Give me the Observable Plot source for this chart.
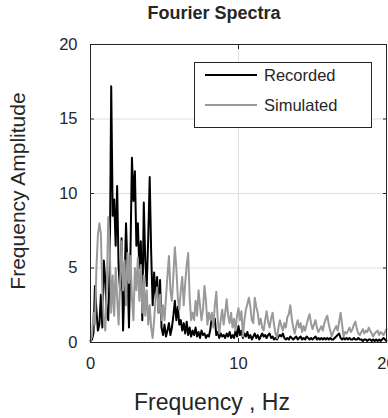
<!DOCTYPE html>
<html><head><meta charset="utf-8">
<script src="https://cdn.jsdelivr.net/npm/d3@7"></script>
<script src="https://cdn.jsdelivr.net/npm/@observablehq/plot@0.6"></script>
<style>
body{margin:0;background:#fff;}
#wrap{position:relative;width:388px;height:418px;overflow:hidden;font-family:"Liberation Sans",Arial,sans-serif;color:#262626;}
#wrap svg{position:absolute;left:0;top:0;}
.t{position:absolute;white-space:nowrap;line-height:1;}
#legend{position:absolute;left:194px;top:62px;width:176px;height:64px;border:1px solid #262626;background:#fff;}
#legend .row{position:absolute;left:10px;height:20px;display:flex;align-items:center;font-size:16.5px;}
#legend .sw{width:52px;height:0;border-top:2px solid #000;margin-right:7px;}
</style></head><body>
<div id="wrap">
  <div class="t" id="title" style="font-weight:bold;font-size:18px;left:0;width:428px;text-align:center;top:4px;">Fourier Spectra</div>
  <div class="t" id="xlabel" style="font-size:23px;left:0;width:424px;text-align:center;top:391px;">Frequency , Hz</div>
  <div class="t" id="ylabel" style="font-size:21px;left:17px;top:191px;transform:translate(-50%,-50%) rotate(-90deg);">Frequency Amplitude</div>
</div>
<script>
// Frequency step of the spectra (Hz) and series values
const freqStep = 0.1;
const recorded = [
 0.1,0.2,0.6,3.8,2.2,0.8,1.2,3.2,1.0,5.5,
 4.2,2.0,1.5,5.0,17.2,8.5,9.6,6.5,10.5,5.0,
 3.5,7.0,0.8,4.0,8.0,5.0,1.0,6.0,12.4,9.5,
 11.5,6.5,8.0,5.0,6.8,1.5,9.4,5.5,3.8,7.0,
 11.1,6.0,2.5,4.7,3.0,4.4,2.0,4.2,1.0,0.5,
 1.2,0.4,0.8,1.3,0.5,1.0,1.8,2.8,1.5,2.4,
 1.2,1.5,0.8,1.3,0.6,1.4,0.5,1.0,0.4,0.8,
 0.5,1.0,0.4,0.7,0.3,0.8,0.5,0.6,0.3,0.5,
 0.4,0.9,1.8,1.2,1.6,0.5,0.7,0.3,0.6,0.4,
 0.5,0.3,0.6,0.4,0.7,0.3,0.5,0.3,0.8,0.4,
 1.1,0.5,0.8,0.3,0.6,0.4,0.7,0.3,0.5,0.2,
 0.4,0.6,0.3,0.5,0.2,0.4,0.6,0.4,0.5,0.3,
 0.5,0.6,0.3,0.4,0.2,0.3,0.2,0.4,0.5,0.4,
 0.6,0.3,0.2,0.3,0.2,0.4,0.3,0.2,0.3,0.4,
 0.2,0.3,0.4,0.2,0.3,0.2,0.4,0.3,0.2,0.3,
 0.2,0.3,0.4,0.2,0.3,0.2,0.3,0.2,0.3,0.2,
 0.3,0.2,0.3,0.2,0.2,0.3,0.4,0.5,0.6,0.3,
 0.2,0.3,0.2,0.3,0.2,0.3,0.2,0.2,0.3,0.2,
 0.2,0.3,0.2,0.2,0.1,0.2,0.2,0.1,0.2,0.2,
 0.1,0.2,0.1,0.2,0.1,0.2,0.1,0.2,0.3,0.2,
 0.1
];
const simulated = [
 0.1,0.4,2.0,1.2,5.0,7.2,8.0,7.3,3.5,1.5,
 0.8,3.5,8.4,6.5,2.0,4.5,1.8,5.0,3.0,1.2,
 4.0,6.8,3.5,5.5,2.5,6.0,4.0,5.8,3.0,1.5,
 5.0,3.5,5.7,2.8,5.2,2.0,4.5,1.8,3.5,1.2,
 2.5,1.0,0.3,1.5,3.0,3.7,2.0,3.2,1.5,2.5,
 1.5,3.0,4.5,5.8,3.5,2.8,4.5,6.4,5.0,3.0,
 2.2,3.5,4.4,2.5,4.0,5.2,6.0,3.0,1.5,2.0,
 1.5,2.8,1.8,3.5,2.5,1.5,2.2,3.8,2.8,1.2,
 2.0,1.5,2.0,1.0,2.5,3.4,1.5,0.6,1.5,2.2,
 1.2,2.0,2.9,1.8,1.3,2.0,1.0,1.6,0.8,1.8,
 2.3,1.5,2.1,0.4,1.5,2.2,2.6,3.0,2.4,1.5,
 1.3,3.0,2.4,2.0,1.2,1.6,1.0,0.8,1.5,2.1,
 1.4,1.0,1.6,2.0,1.2,0.6,0.3,1.0,1.5,1.1,
 0.8,1.3,1.0,1.7,1.9,2.5,1.6,1.0,0.6,1.1,
 1.5,1.0,1.3,0.7,1.1,0.8,1.2,1.6,1.9,1.3,
 0.9,1.2,1.5,1.0,0.7,0.9,1.1,0.8,1.3,1.6,
 1.8,1.2,0.8,0.4,0.7,0.9,1.1,0.8,1.4,2.0,
 1.2,0.4,0.7,0.6,0.8,1.0,0.7,0.9,1.2,1.4,
 0.9,0.6,0.5,0.7,0.9,0.6,0.8,0.7,1.0,0.8,
 0.6,0.4,0.6,0.7,0.8,0.5,0.7,0.6,0.5,0.7,
 0.9
];
const seriesNames = ["Recorded", "Simulated"];
const seriesColors = ["#000000", "#999999"];
const xTicks = [0, 10, 20];
const yTicks = [0, 5, 10, 15, 20];
const xDomain = [0, 20];
const yDomain = [0, 20];

const toRows = (vals, name) => vals.map((v, i) => ({f: Math.round(i * freqStep * 10) / 10, a: v, s: name}));
const recRows = toRows(recorded, seriesNames[0]);
const simRows = toRows(simulated, seriesNames[1]);

const chart = Plot.plot({
  width: 388, height: 418,
  marginLeft: 90, marginRight: 2, marginTop: 44, marginBottom: 76,
  x: {domain: xDomain},
  y: {domain: yDomain},
  style: {fontFamily: "'Liberation Sans', Arial, sans-serif", fontSize: "16.5px", color: "#262626", background: "transparent", overflow: "visible"},
  marks: [
    Plot.gridX(xTicks, {stroke: "#dedede", strokeOpacity: 1}),
    Plot.gridY(yTicks, {stroke: "#dedede", strokeOpacity: 1}),
    Plot.line(recRows, {x: "f", y: "a", stroke: seriesColors[0], strokeWidth: 2}),
    Plot.line(simRows, {x: "f", y: "a", stroke: seriesColors[1], strokeWidth: 2}),
    Plot.frame({stroke: "#262626"}),
    Plot.axisX(xTicks, {anchor: "bottom", tickSize: -4, tickPadding: 19, label: null}),
    Plot.axisX(xTicks, {anchor: "top", tickSize: -4, tickFormat: () => "", label: null}),
    Plot.axisY(yTicks, {anchor: "left", tickSize: -4, tickPadding: 17, label: null}),
    Plot.axisY(yTicks, {anchor: "right", tickSize: -4, tickFormat: () => "", label: null})
  ]
});
const wrap = document.getElementById("wrap");
wrap.insertBefore(chart, wrap.firstChild);

// legend
const legend = document.createElement("div");
legend.id = "legend";
const rowTops = [2, 32];
seriesNames.forEach((name, i) => {
  const row = document.createElement("div");
  row.className = "row";
  row.style.top = rowTops[i] + "px";
  const sw = document.createElement("span");
  sw.className = "sw";
  sw.style.borderTopColor = seriesColors[i];
  const tx = document.createElement("span");
  tx.textContent = name;
  row.appendChild(sw);
  row.appendChild(tx);
  legend.appendChild(row);
});
wrap.appendChild(legend);
</script>
</body></html>
